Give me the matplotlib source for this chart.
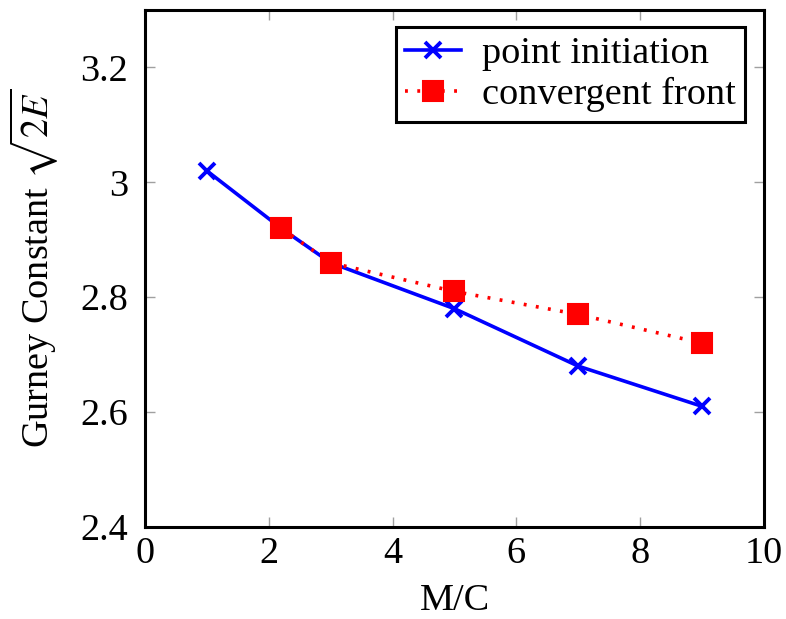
import matplotlib
matplotlib.use("Agg")
import matplotlib.pyplot as plt

plt.rcParams['font.family'] = ['Liberation Serif', 'DejaVu Serif']
plt.rcParams['mathtext.fontset'] = 'stix'

x_point = [1, 2.2, 3, 5, 7, 9]
y_point = [3.02, 2.92, 2.86, 2.78, 2.68, 2.61]
x_conv = [2.2, 3, 5, 7, 9]
y_conv = [2.92, 2.86, 2.81, 2.77, 2.72]
xticks = [0, 2, 4, 6, 8, 10]
yticks = [2.4, 2.6, 2.8, 3.0, 3.2]
yticklabels = ['2.4', '2.6', '2.8', '3', '3.2']

FS = 27.5
fig = plt.figure(figsize=(7.86, 6.19), dpi=100)
ax = fig.add_axes([145/786, 1-527/619, (764-145)/786, (527-10)/619])

ax.plot(x_point, y_point, color='blue', lw=2.6, marker='x', ms=11, mew=2.8,
        label='point initiation', zorder=3)
ax.plot(x_conv, y_conv, color='red', lw=2.6, ls=(0, (0.8, 2.6)), marker='s', ms=14,
        mew=1.5, mfc='red', mec='red', label='convergent front', zorder=4)

ax.set_xlim(0, 10)
ax.set_ylim(2.4, 3.3)
ax.set_xticks(xticks)
ax.set_xticklabels([str(t) for t in xticks])
ax.set_yticks(yticks)
ax.set_yticklabels(yticklabels)
ax.tick_params(direction='in', length=7, width=1.0, color='#a0a0a0',
               labelsize=FS, top=True, right=True)
ax.tick_params(axis='x', pad=7)
ax.tick_params(axis='y', pad=12)
for s in ax.spines.values():
    s.set_linewidth(2.2)

ax.set_xlabel('M/C', fontsize=FS, labelpad=9)
ax.set_ylabel(r'Gurney Constant $\sqrt{2E}$', fontsize=FS, labelpad=15)

leg = ax.legend(loc='upper right', fontsize=FS, frameon=True, fancybox=False,
                edgecolor='black', framealpha=1, borderpad=0.25, handlelength=1.45,
                handletextpad=0.55, labelspacing=0.15, borderaxespad=0,
                bbox_to_anchor=((745-145)/619, (527-27)/517))
leg.get_frame().set_linewidth(2.2)

fig.savefig('out.png', dpi=100)
